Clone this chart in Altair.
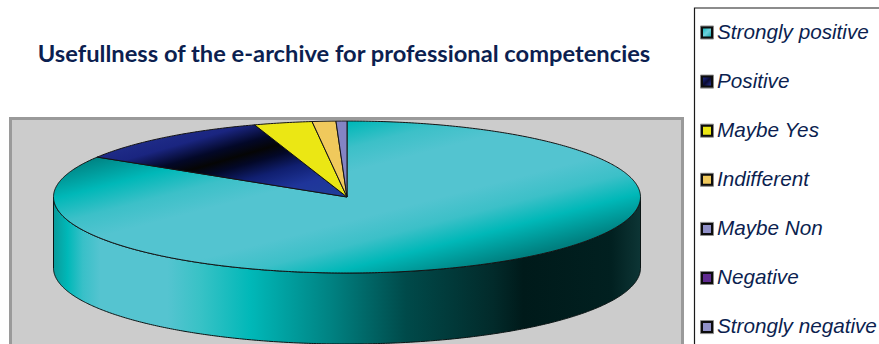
import numpy as np
import pandas as pd
import altair as alt

TITLE = "Usefullness of the e-archive for professional competencies"
CATEGORIES = ["Strongly positive", "Positive", "Maybe Yes", "Indifferent",
              "Maybe Non", "Negative", "Strongly negative"]
SHARES = [83.8, 11.1, 3.2, 1.3, 0.6, 0.0, 0.0]
COLORS = ["#55c4d0", "#101a66", "#ebe714", "#f0c95c", "#9090c8", "#5f2a90", "#9090c8"]

W, H = 879, 344
CX, CY, RX, RY = 347, 197, 293.5, 76
DEPTH = 71 / RY
NAVY = "#0c1f50"


def gradient(stops, x2=1, y2=1):
    return {
        "gradient": "linear", "x1": 0, "y1": 0, "x2": x2, "y2": y2,
        "stops": [{"offset": o, "color": c} for o, c in stops],
    }


TOP_TEAL = gradient([(0, "#005f5f"), (0.16, "#008585"), (0.257, "#00b8b8"), (0.34, "#3cc0c8"),
                     (0.42, "#53c4d0"), (0.58, "#53c4d0"), (0.66, "#3cc0c8"),
                     (0.737, "#00b8b8"), (0.843, "#008080"), (1, "#005f5f")])
TOP_NAVY = gradient([(0, "#2a3a9a"), (0.3, "#1a2580"), (0.42, "#030828"), (0.5, "#050505"),
                     (0.57, "#030828"), (0.68, "#101f70"), (0.82, "#1f359a"), (1, "#203f9a")])
WALL_TEAL = gradient([(0, "#0a9a9a"), (0.024, "#00b8b8"), (0.05, "#38c0c8"), (0.08, "#55c4d0"),
                      (0.194, "#55c4d0"), (0.25, "#38c2c6"), (0.336, "#00b8b8"),
                      (0.477, "#008080"), (0.6, "#004a4a"), (0.75, "#022a2a"),
                      (0.8, "#001a1a"), (0.95, "#012020"), (1, "#0d3535")], y2=0)
SLICE_FILLS = [TOP_TEAL, TOP_NAVY, COLORS[2], COLORS[3], "#8484c4"]

x_scale = alt.Scale(domain=[-CX / RX, (W - CX) / RX], range=[0, W], nice=False, zero=False)
y_scale = alt.Scale(domain=[(CY - H) / RY, CY / RY], range=[H, 0], nice=False, zero=False)
X = alt.X("x:Q", scale=x_scale, axis=None)
Y = alt.Y("y:Q", scale=y_scale, axis=None)

one_row = pd.DataFrame({"k": [0]})


def box(x0, x1, y0, y1, **mark):
    return alt.Chart(one_row).mark_rect(**mark).encode(
        x=alt.value(x0), x2=alt.value(x1), y=alt.value(y0), y2=alt.value(y1))


layers = [box(10.5, 682.5, 118.5, 360, fill="#cccccc", stroke="#9a9a9a", strokeWidth=3)]

# Front wall of the drum: the rim's lower half, dropped by the pie depth
t = np.linspace(np.pi / 2, 3 * np.pi / 2, 361)[::-1]
wall = pd.DataFrame({"x": np.sin(t), "rim": np.cos(t), "low": np.cos(t) - DEPTH})
layers.append(
    alt.Chart(wall).mark_area(fill=WALL_TEAL, stroke="#0a1414", strokeWidth=1).encode(
        x=X, y=alt.Y("low:Q", scale=y_scale, axis=None), y2="rim:Q")
)

# Top face: slices run clockwise from twelve o'clock
edges = np.cumsum([0] + SHARES) / 100 * 2 * np.pi
for share, start, stop, fill in zip(SHARES, edges[:-1], edges[1:], SLICE_FILLS):
    n = max(int(share * 6), 2)
    a = np.linspace(start, stop, n)
    wedge = pd.DataFrame({
        "x": np.r_[0, np.sin(a)],
        "y": np.r_[0, np.cos(a)],
        "i": np.arange(n + 1),
    })
    layers.append(
        alt.Chart(wedge).mark_line(
            interpolate="linear-closed", fill=fill, stroke="#141414", strokeWidth=1,
        ).encode(x=X, y=Y, order=alt.Order("i:Q"))
    )

layers.append(box(694.5, 900, 8, 360, fill="#ffffff", stroke="#1a1a1a", strokeWidth=1.2))

layers.append(
    alt.Chart(pd.DataFrame({"t": [TITLE]})).mark_text(
        font="Lato", fontWeight="bold", fontSize=23.7, color=NAVY,
        align="center", baseline="middle",
    ).encode(x=alt.value(344), y=alt.value(55), text="t:N")
)

# Legend rows: a soft grey halo, then the bordered swatch and its label
SWATCH_FILLS = [gradient([(0, "#00b8b8"), (0.5, "#70d0dc"), (1, "#00a0a0")]),
                gradient([(0, "#1f30a0"), (0.5, "#0a0a30"), (1, "#2a3cb0")])] + COLORS[2:]
for row, (label, fill) in enumerate(zip(CATEGORIES, SWATCH_FILLS)):
    cy = 32.5 + 49.1 * row
    layers.append(box(700.5, 713.5, cy - 6.5, cy + 6.5, fill="#8a8a8a", stroke="#8a8a8a", strokeWidth=1))
    layers.append(box(702, 712, cy - 5, cy + 5, fill=fill, stroke="#0d0d0d", strokeWidth=2))
    layers.append(
        alt.Chart(pd.DataFrame({"t": [label]})).mark_text(
            font="Liberation Sans", fontStyle="italic", fontSize=20.7, color=NAVY,
            align="left", baseline="middle",
        ).encode(x=alt.value(717), y=alt.value(cy), text="t:N")
    )

chart = alt.layer(*layers).properties(
    width=W, height=H, padding=0, autosize=alt.AutoSizeParams(type="none"),
    background="#ffffff",
).configure_view(strokeWidth=0)

chart.save("out.html", embed_options={"renderer": "svg", "actions": False})
